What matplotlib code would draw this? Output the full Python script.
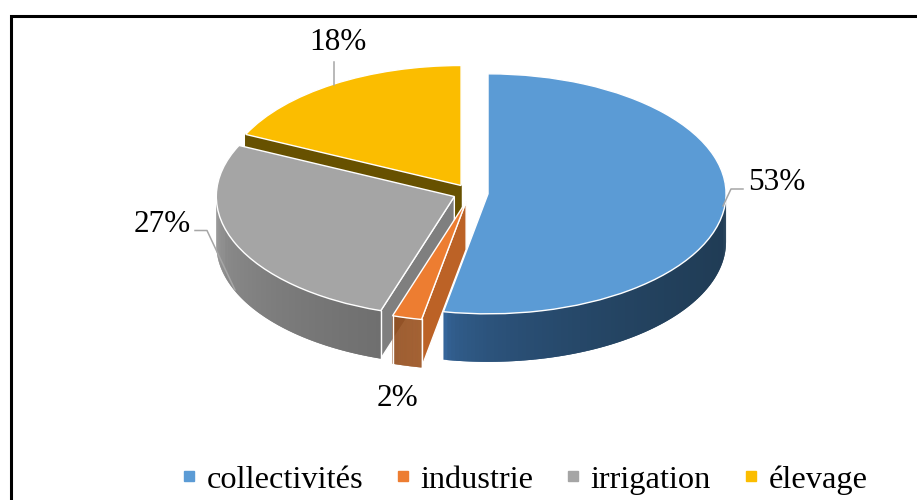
import numpy as np
import matplotlib
matplotlib.use('Agg')
import matplotlib.pyplot as plt
from matplotlib.collections import PolyCollection
from matplotlib.colors import to_rgb
from matplotlib.lines import Line2D
from matplotlib.patches import Polygon

W, H = 917, 500

categories = ['collectivités', 'industrie', 'irrigation', 'élevage']
values = [53, 2, 27, 18]
colors = ['#5b9bd5', '#ed7d31', '#a5a5a5', '#fbbd00']
cut_colors = ['#37608a', '#bc6226', '#7f7f7f', '#675100']
wall_left = ['#35659a', '#8f4c1d', '#949494', '#ffc000']
wall_right = ['#203c55', '#9c5320', '#6f6f6f', '#ffc000']

plt.rcParams['font.family'] = ['Liberation Serif', 'DejaVu Serif']

CX, CY = 470.5, 193.0   # pie centre in pixels
RX, RY = 238.0, 120.0   # ellipse radii in pixels
DEPTH = 48.0 / RY
EXPLODE = 0.074


def fx(x):
    return x / W


def fy(y):
    return 1 - y / H


def draw_wall(ax, wedge, left, right, z):
    # front rim only, strips shaded from left to right, each overlaps the next
    t = np.radians(np.linspace(wedge.theta1, wedge.theta2, 200))
    t = t[np.sin(t) <= 0.001]
    if len(t) < 2:
        return
    x0, y0 = wedge.center
    xs, ys = x0 + np.cos(t), y0 + np.sin(t)
    polys, cols = [], []
    c0, c1 = np.array(to_rgb(left)), np.array(to_rgb(right))
    for i in range(len(t) - 1):
        j = min(i + 2, len(t) - 1)
        polys.append([(xs[i], ys[i]), (xs[j], ys[j]),
                      (xs[j], ys[j] - DEPTH), (xs[i], ys[i] - DEPTH)])
        frac = (xs[i] - xs.min()) / (xs.max() - xs.min())
        cols.append(c0 + (c1 - c0) * frac ** 0.45)
    ax.add_collection(PolyCollection(polys, facecolors=cols, edgecolors='none',
                                     linewidths=0, zorder=z))


def draw_cut(ax, wedge, angle, color, z, edge=True):
    x0, y0 = wedge.center
    x1, y1 = x0 + np.cos(np.radians(angle)), y0 + np.sin(np.radians(angle))
    pts = [(x0, y0), (x1, y1), (x1, y1 - DEPTH), (x0, y0 - DEPTH)]
    ax.add_patch(Polygon(pts, closed=True, facecolor=color,
                         edgecolor='white' if edge else color, linewidth=1.0, zorder=z))


fig = plt.figure(figsize=(W / 100, H / 100), dpi=100)
ax = fig.add_axes([0, 0, 1, 1])
wedges, _ = ax.pie(values, colors=colors, startangle=90, counterclock=False,
                   explode=[EXPLODE] * len(values), radius=1,
                   wedgeprops={'edgecolor': 'white', 'linewidth': 1.0})
ax.set_aspect('auto')
ax.set_xlim((0 - CX) / RX, (W - CX) / RX)
ax.set_ylim((CY - H) / RY, CY / RY)
for w in wedges:
    w.set_zorder(10)

blue, orange, gray, yellow = wedges
draw_cut(ax, yellow, yellow.theta2, cut_colors[3], 2, edge=False)
draw_wall(ax, blue, wall_left[0], wall_right[0], 3)
draw_cut(ax, gray, gray.theta2, cut_colors[2], 4)
draw_wall(ax, gray, wall_left[2], wall_right[2], 5)
draw_cut(ax, orange, orange.theta2, cut_colors[1], 6)
draw_wall(ax, orange, wall_left[1], wall_right[1], 7)

# white edges on the front corners of the small slices
for w, a in [(orange, orange.theta1), (orange, orange.theta2), (gray, gray.theta2)]:
    x = w.center[0] + np.cos(np.radians(a))
    y = w.center[1] + np.sin(np.radians(a))
    ax.plot([x, x], [y, y - DEPTH], color='white', lw=1.0, zorder=8)

# percentage labels and their leader lines
label_pos = [(777, 182), (397, 398), (162, 224), (338, 42)]
for v, (x, y) in zip(values, label_pos):
    fig.text(fx(x), fy(y), f'{v}%', fontsize=22.5, color='black', ha='center', va='center')

leaders = [[(743, 189), (731, 189), (723, 206)],
           [(195, 230.5), (207, 230.5), (235, 290)],
           [(333.5, 62), (333.5, 85)]]
for line in leaders:
    px, py = zip(*line)
    fig.add_artist(Line2D([fx(p) for p in px], [fy(p) for p in py], color='#a6a6a6',
                          lw=1.1, zorder=20, transform=fig.transFigure))

# chart frame, cut by the image on the right and at the bottom
fig.add_artist(Line2D([fx(10.5), fx(10.5), 1], [0, fy(15.5), fy(15.5)], color='black',
                      lw=2.2, solid_joinstyle='miter', transform=fig.transFigure))

handles = [Line2D([], [], marker='s', linestyle='none', color=c, markersize=7) for c in colors]
fig.legend(handles, categories, ncols=4, loc='center', bbox_to_anchor=(fx(520), fy(480)),
           frameon=False, fontsize=23.3, handletextpad=0.05, columnspacing=0.72,
           handlelength=1.0, borderpad=0, labelspacing=0)

fig.savefig('out.png', dpi=100)
